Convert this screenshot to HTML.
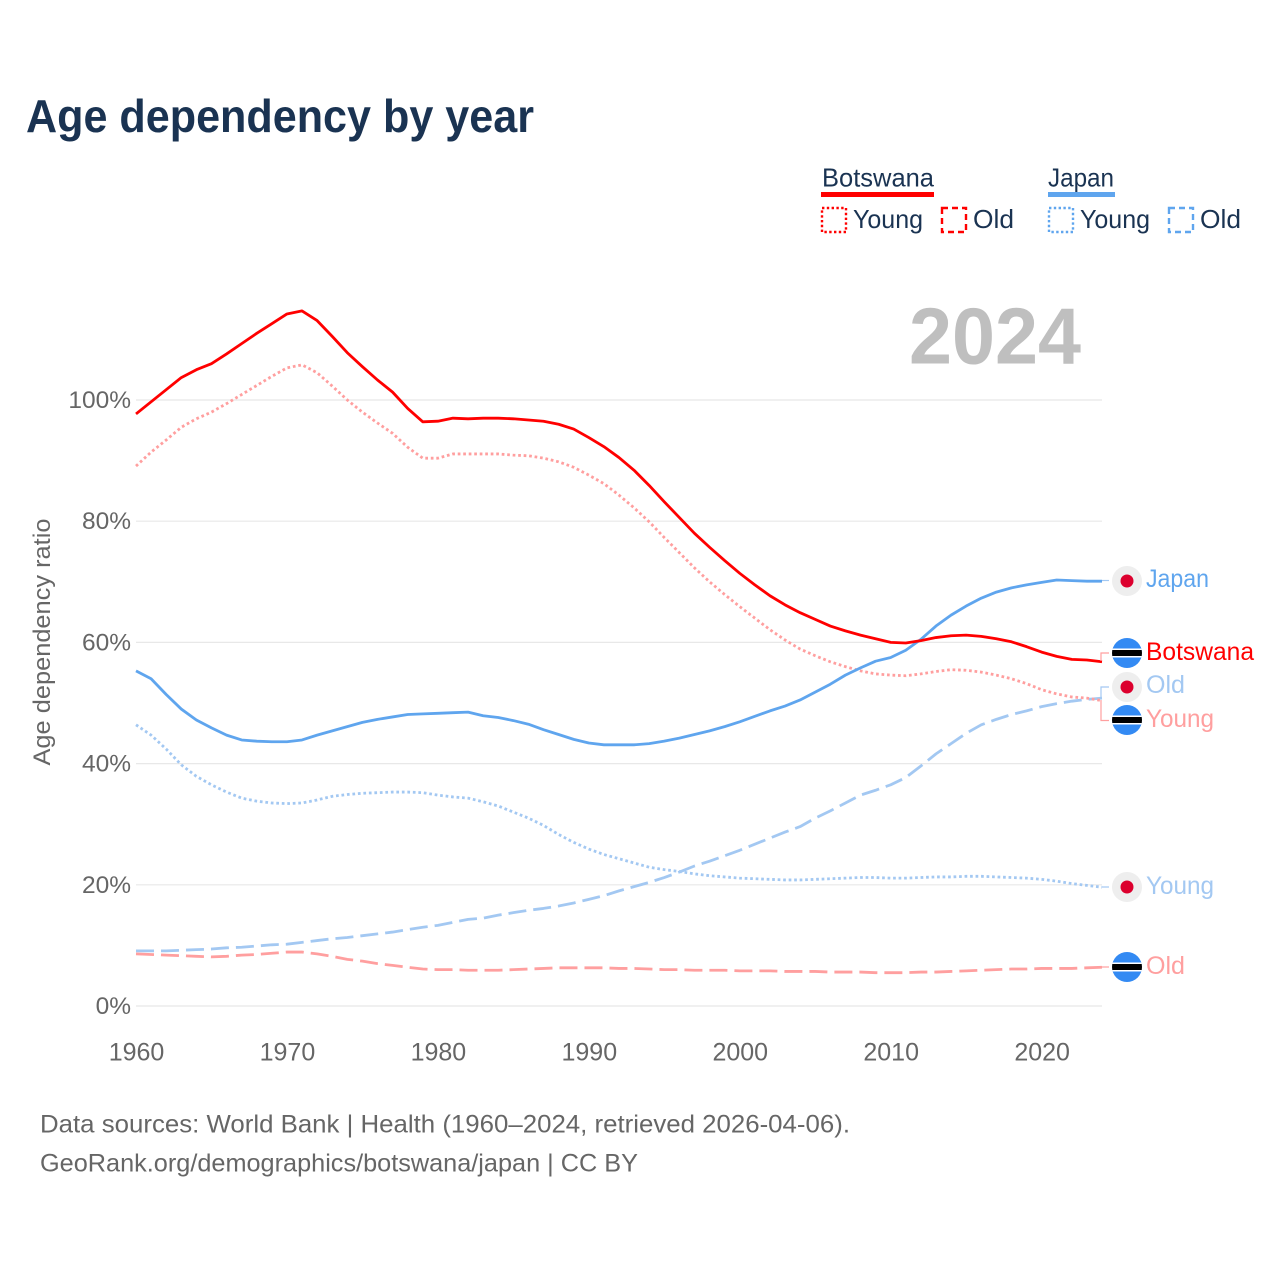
<!DOCTYPE html>
<html lang="en">
<head>
<meta charset="utf-8">
<title>Age dependency by year</title>
<style>
html,body{margin:0;padding:0;background:#fff}
svg{display:block}
text{font-family:"Liberation Sans",sans-serif}
.ytick{font-size:24.5px;fill:#666}
.xtick{font-size:25px;fill:#666}
.leg{font-size:26px;fill:#1a3352}
.end{font-size:25px}
.foot{font-size:25px;fill:#666}
</style>
</head>
<body>
<svg id="chart" xmlns="http://www.w3.org/2000/svg" width="1280" height="1280" viewBox="0 0 1280 1280">
  <defs>
    <clipPath id="flag-clip-1"><circle cx="1127" cy="653" r="15"/></clipPath>
    <clipPath id="flag-clip-2"><circle cx="1127" cy="720" r="15"/></clipPath>
    <clipPath id="flag-clip-3"><circle cx="1127" cy="967" r="15"/></clipPath>
  </defs>
  <rect width="1280" height="1280" fill="#fff"/>
  <text x="26" y="132" font-size="46" font-weight="700" fill="#1a3352" textLength="508" lengthAdjust="spacingAndGlyphs">Age dependency by year</text>

  <g id="gridlines"></g>
  <g id="y-ticks"></g>
  <g id="x-ticks"></g>
  <text transform="translate(50,642) rotate(-90)" text-anchor="middle" font-size="24" fill="#666" textLength="247" lengthAdjust="spacingAndGlyphs">Age dependency ratio</text>

  <text x="909" y="363.500" font-size="80" font-weight="700" fill="#bfbfbf" textLength="172" lengthAdjust="spacingAndGlyphs">2024</text>

  <g id="series"></g>

  <g fill="none" stroke-width="1.2">
    <path d="M1102 580.5H1109" stroke="#a3c8f2"/>
    <path d="M1101 661V653H1109" stroke="#ff9f9f"/>
    <path d="M1101 698V687H1109" stroke="#a3c8f2"/>
    <path d="M1101 700V720.500H1109" stroke="#ff9f9f"/>
    <path d="M1102 887H1109" stroke="#a3c8f2"/>
    <path d="M1102 967H1109" stroke="#ff9f9f"/>
  </g>

  <g><circle cx="1127" cy="581" r="15" fill="#eee"/><circle cx="1127" cy="581" r="6.500" fill="#dc002e"/></g>
  <g><circle cx="1127" cy="687" r="15" fill="#eee"/><circle cx="1127" cy="687" r="6.500" fill="#dc002e"/></g>
  <g><circle cx="1127" cy="887" r="15" fill="#eee"/><circle cx="1127" cy="887" r="6.500" fill="#dc002e"/></g>
  <g clip-path="url(#flag-clip-1)"><rect x="1112" y="638" width="30" height="30" fill="#338af3"/><rect x="1112" y="648.500" width="30" height="9" fill="#fff"/><rect x="1112" y="650" width="30" height="6" fill="#000"/></g>
  <g clip-path="url(#flag-clip-2)"><rect x="1112" y="705" width="30" height="30" fill="#338af3"/><rect x="1112" y="715.500" width="30" height="9" fill="#fff"/><rect x="1112" y="717" width="30" height="6" fill="#000"/></g>
  <g clip-path="url(#flag-clip-3)"><rect x="1112" y="952" width="30" height="30" fill="#338af3"/><rect x="1112" y="962.500" width="30" height="9" fill="#fff"/><rect x="1112" y="964" width="30" height="6" fill="#000"/></g>

  <text class="end" x="1146" y="587" fill="#5fa5ee" textLength="63" lengthAdjust="spacingAndGlyphs">Japan</text>
  <text class="end" x="1146" y="660" fill="#ff0000" textLength="108" lengthAdjust="spacingAndGlyphs">Botswana</text>
  <text class="end" x="1146" y="693" fill="#a3c8f2" textLength="39" lengthAdjust="spacingAndGlyphs">Old</text>
  <text class="end" x="1146" y="727" fill="#ff9f9f" textLength="68" lengthAdjust="spacingAndGlyphs">Young</text>
  <text class="end" x="1146" y="894" fill="#a3c8f2" textLength="68" lengthAdjust="spacingAndGlyphs">Young</text>
  <text class="end" x="1146" y="974" fill="#ff9f9f" textLength="39" lengthAdjust="spacingAndGlyphs">Old</text>

  <g>
    <text class="leg" x="822" y="186.500" textLength="112" lengthAdjust="spacingAndGlyphs">Botswana</text>
    <rect x="821" y="192" width="113" height="5" fill="#ff0000"/>
    <rect x="822" y="208" width="24" height="24" fill="none" stroke="#ff0000" stroke-width="2.400" stroke-dasharray="2.400 2.400"/>
    <text class="leg" x="853" y="228" textLength="70" lengthAdjust="spacingAndGlyphs">Young</text>
    <rect x="942" y="208" width="24" height="24" fill="none" stroke="#ff0000" stroke-width="2.400" stroke-dasharray="6 4"/>
    <text class="leg" x="973" y="228" textLength="41" lengthAdjust="spacingAndGlyphs">Old</text>
    <text class="leg" x="1048" y="186.500" textLength="66" lengthAdjust="spacingAndGlyphs">Japan</text>
    <rect x="1048" y="192" width="67" height="5" fill="#5fa5ee"/>
    <rect x="1049" y="208" width="24" height="24" fill="none" stroke="#5fa5ee" stroke-width="2.400" stroke-dasharray="2.400 2.400"/>
    <text class="leg" x="1080" y="228" textLength="70" lengthAdjust="spacingAndGlyphs">Young</text>
    <rect x="1169" y="208" width="24" height="24" fill="none" stroke="#5fa5ee" stroke-width="2.400" stroke-dasharray="6 4"/>
    <text class="leg" x="1200" y="228" textLength="41" lengthAdjust="spacingAndGlyphs">Old</text>
  </g>

  <text class="foot" x="40" y="1132.500" textLength="810" lengthAdjust="spacingAndGlyphs">Data sources: World Bank | Health (1960–2024, retrieved 2026-04-06).</text>
  <text class="foot" x="40" y="1171.500" textLength="598" lengthAdjust="spacingAndGlyphs">GeoRank.org/demographics/botswana/japan | CC BY</text>
</svg>
<script>
const startYear = 1960;
const endYear = 2024;
const yTickValues = [0, 20, 40, 60, 80, 100];
const yTickLabels = ['0%', '20%', '40%', '60%', '80%', '100%'];
const xTickValues = [1960, 1970, 1980, 1990, 2000, 2010, 2020];
const xTickLabels = ['1960', '1970', '1980', '1990', '2000', '2010', '2020'];

const botswanaTotal = [
  97.7,99.7,101.7,103.7,105.0,106.0,107.6,109.3,111.0,112.6,
  114.2,114.7,113.1,110.5,107.8,105.5,103.3,101.3,98.6,96.4,
  96.5,97.0,96.9,97.0,97.0,96.9,96.7,96.5,96.0,95.2,
  93.8,92.3,90.5,88.4,85.9,83.2,80.6,78.0,75.7,73.5,
  71.4,69.5,67.7,66.2,64.9,63.8,62.7,61.9,61.2,60.6,
  60.0,59.9,60.3,60.8,61.1,61.2,61.0,60.6,60.1,59.3,
  58.4,57.7,57.2,57.1,56.8];
const botswanaYoung = [
  89.1,91.4,93.4,95.5,96.9,98.0,99.4,100.9,102.4,103.9,
  105.3,105.8,104.5,102.3,100.0,98.0,96.2,94.5,92.2,90.4,
  90.4,91.1,91.1,91.1,91.1,90.9,90.8,90.4,89.8,88.9,
  87.6,86.2,84.3,82.2,79.9,77.3,74.8,72.3,70.0,67.9,
  65.9,64.0,62.1,60.4,58.9,57.8,56.8,56.0,55.3,54.8,
  54.6,54.5,54.8,55.2,55.5,55.4,55.1,54.6,54.0,53.2,
  52.2,51.5,51.0,50.8,50.4];
const botswanaOld = [
  8.6,8.5,8.4,8.3,8.2,8.1,8.2,8.4,8.5,8.7,
  8.9,8.9,8.6,8.2,7.7,7.4,7.0,6.7,6.4,6.1,
  6.0,6.0,5.9,5.9,5.9,6.0,6.1,6.2,6.3,6.3,
  6.3,6.3,6.2,6.2,6.1,6.0,6.0,5.9,5.9,5.9,
  5.8,5.8,5.8,5.7,5.7,5.7,5.6,5.6,5.6,5.5,
  5.5,5.5,5.6,5.6,5.7,5.8,5.9,6.0,6.1,6.1,
  6.2,6.2,6.2,6.3,6.4];
const japanTotal = [
  55.3,54.0,51.4,49.0,47.2,45.9,44.7,43.9,43.7,43.6,
  43.6,43.9,44.7,45.4,46.1,46.8,47.3,47.7,48.1,48.2,
  48.3,48.4,48.5,47.9,47.6,47.1,46.5,45.6,44.8,44.0,
  43.4,43.1,43.1,43.1,43.3,43.7,44.2,44.8,45.4,46.1,
  46.9,47.8,48.7,49.5,50.5,51.8,53.1,54.6,55.8,56.9,
  57.5,58.7,60.5,62.7,64.5,66.0,67.3,68.3,69.0,69.5,
  69.9,70.3,70.2,70.1,70.1];
const japanYoung = [
  46.4,44.7,42.4,39.8,37.9,36.5,35.3,34.3,33.8,33.5,
  33.4,33.5,34.0,34.6,34.9,35.1,35.2,35.3,35.3,35.2,
  34.8,34.5,34.3,33.7,33.0,32.0,31.0,29.8,28.3,27.0,
  25.9,25.0,24.3,23.6,22.9,22.5,22.2,21.8,21.5,21.3,
  21.1,21.0,20.9,20.8,20.8,20.9,21.0,21.1,21.2,21.2,
  21.1,21.1,21.2,21.3,21.3,21.4,21.4,21.3,21.2,21.1,
  20.9,20.6,20.2,19.9,19.6];
const japanOld = [
  9.1,9.1,9.1,9.2,9.3,9.4,9.6,9.7,9.9,10.1,
  10.2,10.5,10.8,11.1,11.3,11.6,11.9,12.2,12.6,13.0,
  13.3,13.8,14.3,14.5,15.0,15.4,15.8,16.1,16.5,17.0,
  17.6,18.2,19.0,19.7,20.4,21.2,22.1,23.1,23.9,24.8,
  25.7,26.7,27.7,28.7,29.6,31.0,32.2,33.5,34.8,35.6,
  36.5,37.7,39.6,41.6,43.3,45.0,46.4,47.3,48.1,48.7,
  49.4,49.9,50.3,50.6,50.8];

const plotLeft = 136, plotRight = 1102, plotZero = 1006, pxPerPercent = 6.06;
const NS = 'http://www.w3.org/2000/svg';
function xScale(year) { return plotLeft + (year - startYear) * (plotRight - plotLeft) / (endYear - startYear); }
function yScale(value) { return plotZero - value * pxPerPercent; }

const gridGroup = document.getElementById('gridlines');
const yTickGroup = document.getElementById('y-ticks');
const xTickGroup = document.getElementById('x-ticks');
const seriesGroup = document.getElementById('series');

yTickValues.forEach(function (value, i) {
  const line = document.createElementNS(NS, 'line');
  
  
  line.setAttribute('x1', plotLeft);
  line.setAttribute('x2', plotRight);
  line.setAttribute('y1', yScale(value));
  line.setAttribute('y2', yScale(value));
  line.setAttribute('stroke', '#e8e8e8');
  line.setAttribute('stroke-width', '1.2');
  gridGroup.appendChild(line);

  const label = document.createElementNS(NS, 'text');
  
  
  label.setAttribute('class', 'ytick');
  label.setAttribute('x', 131);
  label.setAttribute('y', yScale(value) + 8);
  label.setAttribute('text-anchor', 'end');
  label.textContent = yTickLabels[i];
  yTickGroup.appendChild(label);
});

xTickValues.forEach(function (year, i) {
  const label = document.createElementNS(NS, 'text');
  
  
  label.setAttribute('class', 'xtick');
  label.setAttribute('x', xScale(year) + 0.5);
  label.setAttribute('y', 1060.5);
  label.setAttribute('text-anchor', 'middle');
  label.textContent = xTickLabels[i];
  xTickGroup.appendChild(label);
});

function drawSeries(values, color, dash, width) {
  const points = values.map(function (value, i) {
    return xScale(startYear + i).toFixed(2) + ',' + yScale(value).toFixed(2);
  });
  const line = document.createElementNS(NS, 'polyline');
  line.setAttribute('points', points.join(' '));
  line.setAttribute('fill', 'none');
  line.setAttribute('stroke', color);
  line.setAttribute('stroke-width', width);
  line.setAttribute('stroke-linejoin', 'round');
  if (dash) { line.setAttribute('stroke-dasharray', dash); }
  seriesGroup.appendChild(line);
  return line;
}

const lineJapanOld = drawSeries(japanOld, '#a3c8f2', '18 7', 2.8);


const lineJapanYoung = drawSeries(japanYoung, '#a3c8f2', '2.7 2.8', 2.8);


const lineBotswanaOld = drawSeries(botswanaOld, '#ff9f9f', '18 7', 2.8);


const lineBotswanaYoung = drawSeries(botswanaYoung, '#ff9f9f', '2.7 2.8', 2.8);


const lineJapanTotal = drawSeries(japanTotal, '#5fa5ee', null, 2.8);


const lineBotswanaTotal = drawSeries(botswanaTotal, '#ff0000', null, 2.8);


</script>
</body>
</html>
